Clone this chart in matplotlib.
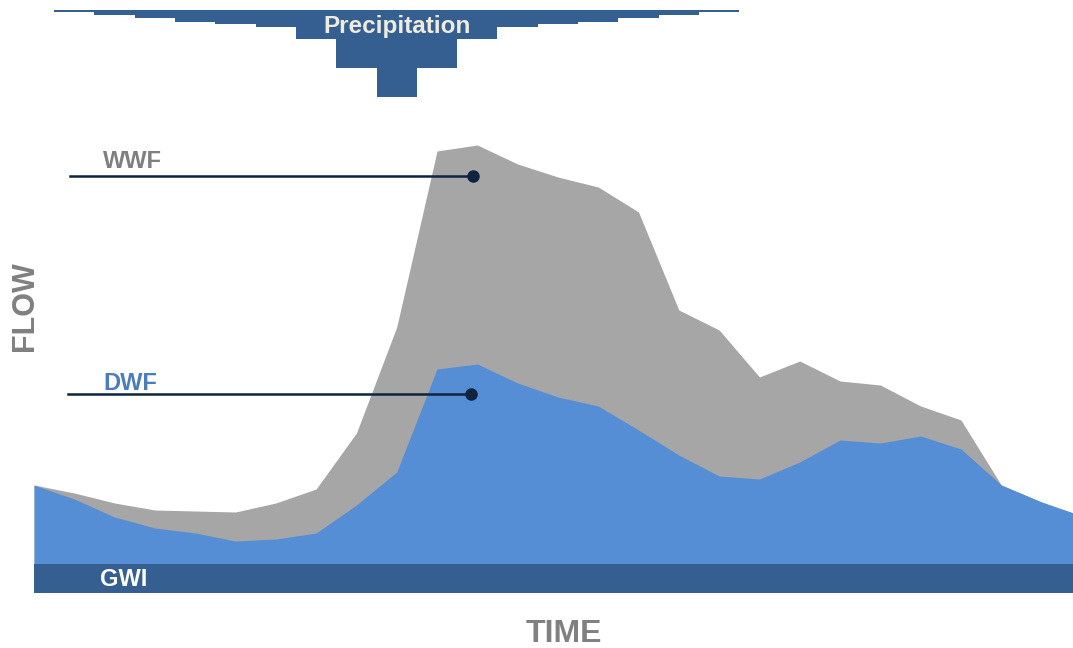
import matplotlib.pyplot as plt
import numpy as np

plt.rcParams['font.family'] = ['Liberation Sans', 'DejaVu Sans']

# flow hydrograph, one value per time step (same arbitrary flow units)
steps = np.arange(27)
gwi = 29
dwf = [108, 94, 76, 65, 60, 52, 54, 60, 88, 121, 224, 229, 210, 196, 187,
       163, 138, 117, 114, 131, 153, 150, 157, 144, 108, 91, 77]
wwf = [108, 100, 90, 83, 82, 81, 90, 104, 160, 266, 442, 448, 429, 416, 406,
       381, 283, 263, 216, 232, 212, 208, 187, 173, 108, 91, 77]

# rainfall hyetograph, centred on time steps 1..17
rain_steps = np.arange(1, 18)
rain = [0.8, 1.7, 2.8, 3.9, 4.7, 5.8, 9.6, 19.4, 29.1,
        19.4, 9.6, 5.8, 4.7, 3.9, 2.8, 1.7, 0.8]

c_gwi = '#365F91'
c_dwf = '#558ED5'
c_wwf = '#A6A6A6'
c_line = '#0F243E'
c_grey = '#808080'

W, H = 1073, 648
fig = plt.figure(figsize=(W / 100, H / 100), dpi=100)

# main flow axes: x 34..1073 px, y 0..593 px
ax = fig.add_axes([34 / W, 1 - 593 / H, 1 - 34 / W, 593 / H])
x_max = 25.78
ax.fill_between(steps, gwi, wwf, color=c_wwf, lw=0)
ax.fill_between(steps, gwi, dwf, color=c_dwf, lw=0)
ax.fill_between([0, x_max], 0, gwi, color=c_gwi, lw=0)
ax.set_xlim(0, x_max)
ax.set_ylim(0, 593)
ax.axis('off')

# callout lines
ax.plot([0.89, 10.9], [417, 417], color=c_line, lw=1.8)
ax.plot([10.9], [417], 'o', color=c_line, ms=8)
ax.plot([0.84, 10.85], [199, 199], color=c_line, lw=1.8)
ax.plot([10.85], [199], 'o', color=c_line, ms=8)

ax.text(2.45, 432, 'WWF', color='#7F7F7F', fontsize=17, fontweight='bold',
        ha='center', va='center')
ax.text(2.38, 210, 'DWF', color='#4A7EBB', fontsize=17, fontweight='bold',
        ha='center', va='center')
ax.text(2.22, 14, 'GWI', color='white', fontsize=17, fontweight='bold',
        ha='center', va='center')

# precipitation axes hanging from the top
pax = fig.add_axes([34 / W, 1 - 100 / H, 1 - 34 / W, 90 / H])
pax.bar(rain_steps, rain, width=1.0, color=c_gwi, lw=0)
pax.set_xlim(0, x_max)
pax.set_ylim(30, 0)
pax.axis('off')
pax.text(9, 5.6, 'Precipitation', color='#EEECE1', fontsize=17.5,
         fontweight='bold', ha='center', va='center')

fig.text(25 / W, 1 - 306 / H, 'FLOW', color=c_grey, fontsize=22,
         fontweight='bold', rotation=90, ha='center', va='center')
fig.text(564 / W, 1 - 634 / H, 'TIME', color=c_grey, fontsize=23,
         fontweight='bold', ha='center', va='center')

fig.savefig('out.png', dpi=100)
